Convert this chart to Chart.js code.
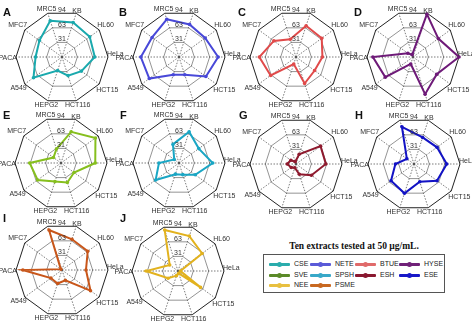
<!DOCTYPE html>
<html>
<head>
<meta charset="utf-8">
<script src="https://cdn.jsdelivr.net/npm/chart.js@4.4.0/dist/chart.umd.min.js"></script>
<style>
  body { margin: 0; width: 472px; height: 327px; position: relative; overflow: hidden; background: #fff; font-family: Arial, "Liberation Sans", sans-serif; }
  canvas { position: absolute; }
  .tag { position: absolute; font: bold 11px Arial, "Liberation Sans", sans-serif; color: #111; }
  #legTitle { position: absolute; left: 258px; top: 241px; width: 192px; text-align: center; font: bold 9.5px "Liberation Serif", "Times New Roman", serif; color: #111; }
  #legBox { position: absolute; left: 263px; top: 254px; width: 180px; height: 37px; border: 1.5px solid #555; }
  .item { position: absolute; height: 8px; font-size: 7px; line-height: 8px; color: #222; white-space: nowrap; }
  .item .ln { position: absolute; left: 0; top: 2.5px; width: 21px; height: 3px; border-radius: 1px; }
  .item .dot { position: absolute; left: 7.5px; top: 1.5px; width: 5px; height: 5px; border-radius: 50%; }
  .item .tx { position: absolute; left: 25px; top: 0; }
</style>
</head>
<body>
<div id="legTitle">Ten extracts tested at 50 µg/mL.</div>
<div id="legBox"></div>
<script>
// cell lines, clockwise starting just left of the top
const cellLines = ['MRC5', 'KB', 'HL60', 'HeLa', 'HCT15', 'HCT116', 'HEPG2', 'A549', 'PACA', 'MFC7'];
const tickValues = [94 / 3, 188 / 3, 94];
const tickLabels = ['31', '63', '94'];

const panels = ['A', 'B', 'C', 'D', 'E', 'F', 'G', 'H', 'I', 'J'];
const extracts = ['CSE', 'NETE', 'BTUE', 'HYSE', 'SVE', 'SPSH', 'ESH', 'ESE', 'PSME', 'NEE'];

const cse  = [78, 74, 70, 67, 49, 40, 29, 72, 54, 57];
const nete = [81, 70, 66, 80, 68, 38, 38, 75, 78, 68];
const btue = [38, 67, 65, 54, 47, 57, 15, 64, 75, 56];
const hyse = [5, 92, 64, 94, 60, 80, 15, 70, 82, 13];
const sve  = [30, 67, 87, 70, 33, 42, 40, 59, 64, 19];
const spsh = [40, 67, 50, 69, 41, 25, 24, 59, 41, 12];
const esh  = [5, 21, 62, 61, 39, 22, 8, 12, 18, 13];
const ese  = [80, 57, 58, 67, 58, 38, 63, 58, 38, 18];
const psme = [86, 66, 65, 49, 72, 22, 29, 28, 80, 3];
const nee  = [88, 75, 61, 5, 57, 5, 10, 25, 65, 21];

const seriesValues = [cse, nete, btue, hyse, sve, spsh, esh, ese, psme, nee];

const lineColors = ['#1aa9ad', '#4848d8', '#e04a4a', '#6e1a78', '#86bf1e',
                    '#1aa6c4', '#8e1a2e', '#1212c4', '#c8561a', '#e2b21e'];
const legendColors = {
  CSE: '#2aacac', NETE: '#5a5ad8', BTUE: '#e06a6a', HYSE: '#702078',
  SVE: '#5b8a28', SPSH: '#38a8c8', ESH: '#8a1830', ESE: '#1818c8',
  NEE: '#e8c040', PSME: '#c86820'
};
const legendRows = [['CSE', 'NETE', 'BTUE', 'HYSE'], ['SVE', 'SPSH', 'ESH', 'ESE'], ['NEE', 'PSME']];

// layout: centre of each radar on the page
const centers = [[62, 57], [179, 57], [296, 57], [413, 57],
                 [61, 163], [179, 163], [296, 164], [414, 164],
                 [62, 270], [178, 271]];
const tagPos = [[3, 6], [119, 6], [238, 6], [354, 6],
                [3, 109], [120, 109], [239, 109], [355, 109],
                [3, 212], [120, 212]];
const R = 46, CW = 150, CH = 130;

const labelPlugin = {
  id: 'radarText',
  afterDraw(chart) {
    const s = chart.scales.r;
    const ctx = chart.ctx;
    ctx.save();
    ctx.fillStyle = '#333';
    ctx.font = '7px Arial, "Liberation Sans", sans-serif';
    ctx.textBaseline = 'middle';
    cellLines.forEach((name, i) => {
      const p = s.getPointPosition(i, s.drawingArea);
      const dx = Math.cos(p.angle), dy = Math.sin(p.angle);
      const w = ctx.measureText(name).width, h = 7;
      let k = 0.5 * (w * Math.abs(dx) + h * Math.abs(dy)) - 1;
      if (Math.abs(dy) > 0.9) k -= 1.5;
      let y = p.y + dy * k;
      if (Math.abs(dy) < 0.1) y += dx > 0 ? -3 : 1.5;
      ctx.textAlign = 'center';
      ctx.fillText(name, p.x + dx * k, y);
    });
    ctx.textBaseline = 'bottom';
    tickValues.forEach((v, i) => {
      const d = s.getDistanceFromCenterForValue(v) * Math.cos(Math.PI / 10);
      ctx.fillText(tickLabels[i], s.xCenter, s.yCenter - d + 0.5);
    });
    ctx.restore();
  }
};

panels.forEach((letter, n) => {
  const [cx, cy] = centers[n];
  const cv = document.createElement('canvas');
  cv.width = CW; cv.height = CH;
  cv.style.left = (cx - CW / 2) + 'px';
  cv.style.top = (cy - CH / 2) + 'px';
  document.body.appendChild(cv);

  const tag = document.createElement('div');
  tag.className = 'tag';
  tag.textContent = letter;
  tag.style.left = tagPos[n][0] + 'px';
  tag.style.top = tagPos[n][1] + 'px';
  document.body.appendChild(tag);

  new Chart(cv.getContext('2d'), {
    type: 'radar',
    data: {
      labels: cellLines,
      datasets: [{
        label: extracts[n],
        data: seriesValues[n],
        borderColor: lineColors[n],
        backgroundColor: 'transparent',
        borderWidth: 2,
        pointRadius: 1.8,
        pointBorderWidth: 0,
        pointBackgroundColor: lineColors[n],
        fill: false
      }]
    },
    options: {
      responsive: false,
      animation: false,
      devicePixelRatio: 1,
      layout: { padding: { left: CW / 2 - R, right: CW / 2 - R, top: CH / 2 - R, bottom: CH / 2 - R } },
      plugins: { legend: { display: false }, tooltip: { enabled: false } },
      scales: {
        r: {
          min: 0,
          max: 94,
          startAngle: -18,
          afterBuildTicks: (scale) => {
            scale.ticks = [0].concat(tickValues).map(v => ({ value: v }));
          },
          ticks: { display: false },
          pointLabels: { display: false },
          grid: {
            color: (c) => c.index === 3 ? '#222' : '#666',
            lineWidth: (c) => c.index === 3 ? 1 : 0.7
          },
          angleLines: { color: '#444', lineWidth: 0.7, borderDash: [1.5, 1.5] }
        }
      }
    },
    plugins: [labelPlugin]
  });
});

// legend
const box = document.getElementById('legBox');
const colX = [5, 46, 91, 135];
const rowY = [5, 16, 26];
legendRows.forEach((row, r) => {
  row.forEach((name, c) => {
    const it = document.createElement('div');
    it.className = 'item';
    it.style.left = colX[c] + 'px';
    it.style.top = rowY[r] + 'px';
    it.innerHTML = '<span class="ln"></span><span class="dot"></span><span class="tx"></span>';
    it.querySelector('.ln').style.background = legendColors[name];
    it.querySelector('.dot').style.background = legendColors[name];
    it.querySelector('.tx').textContent = name;
    box.appendChild(it);
  });
});
</script>
</body>
</html>
